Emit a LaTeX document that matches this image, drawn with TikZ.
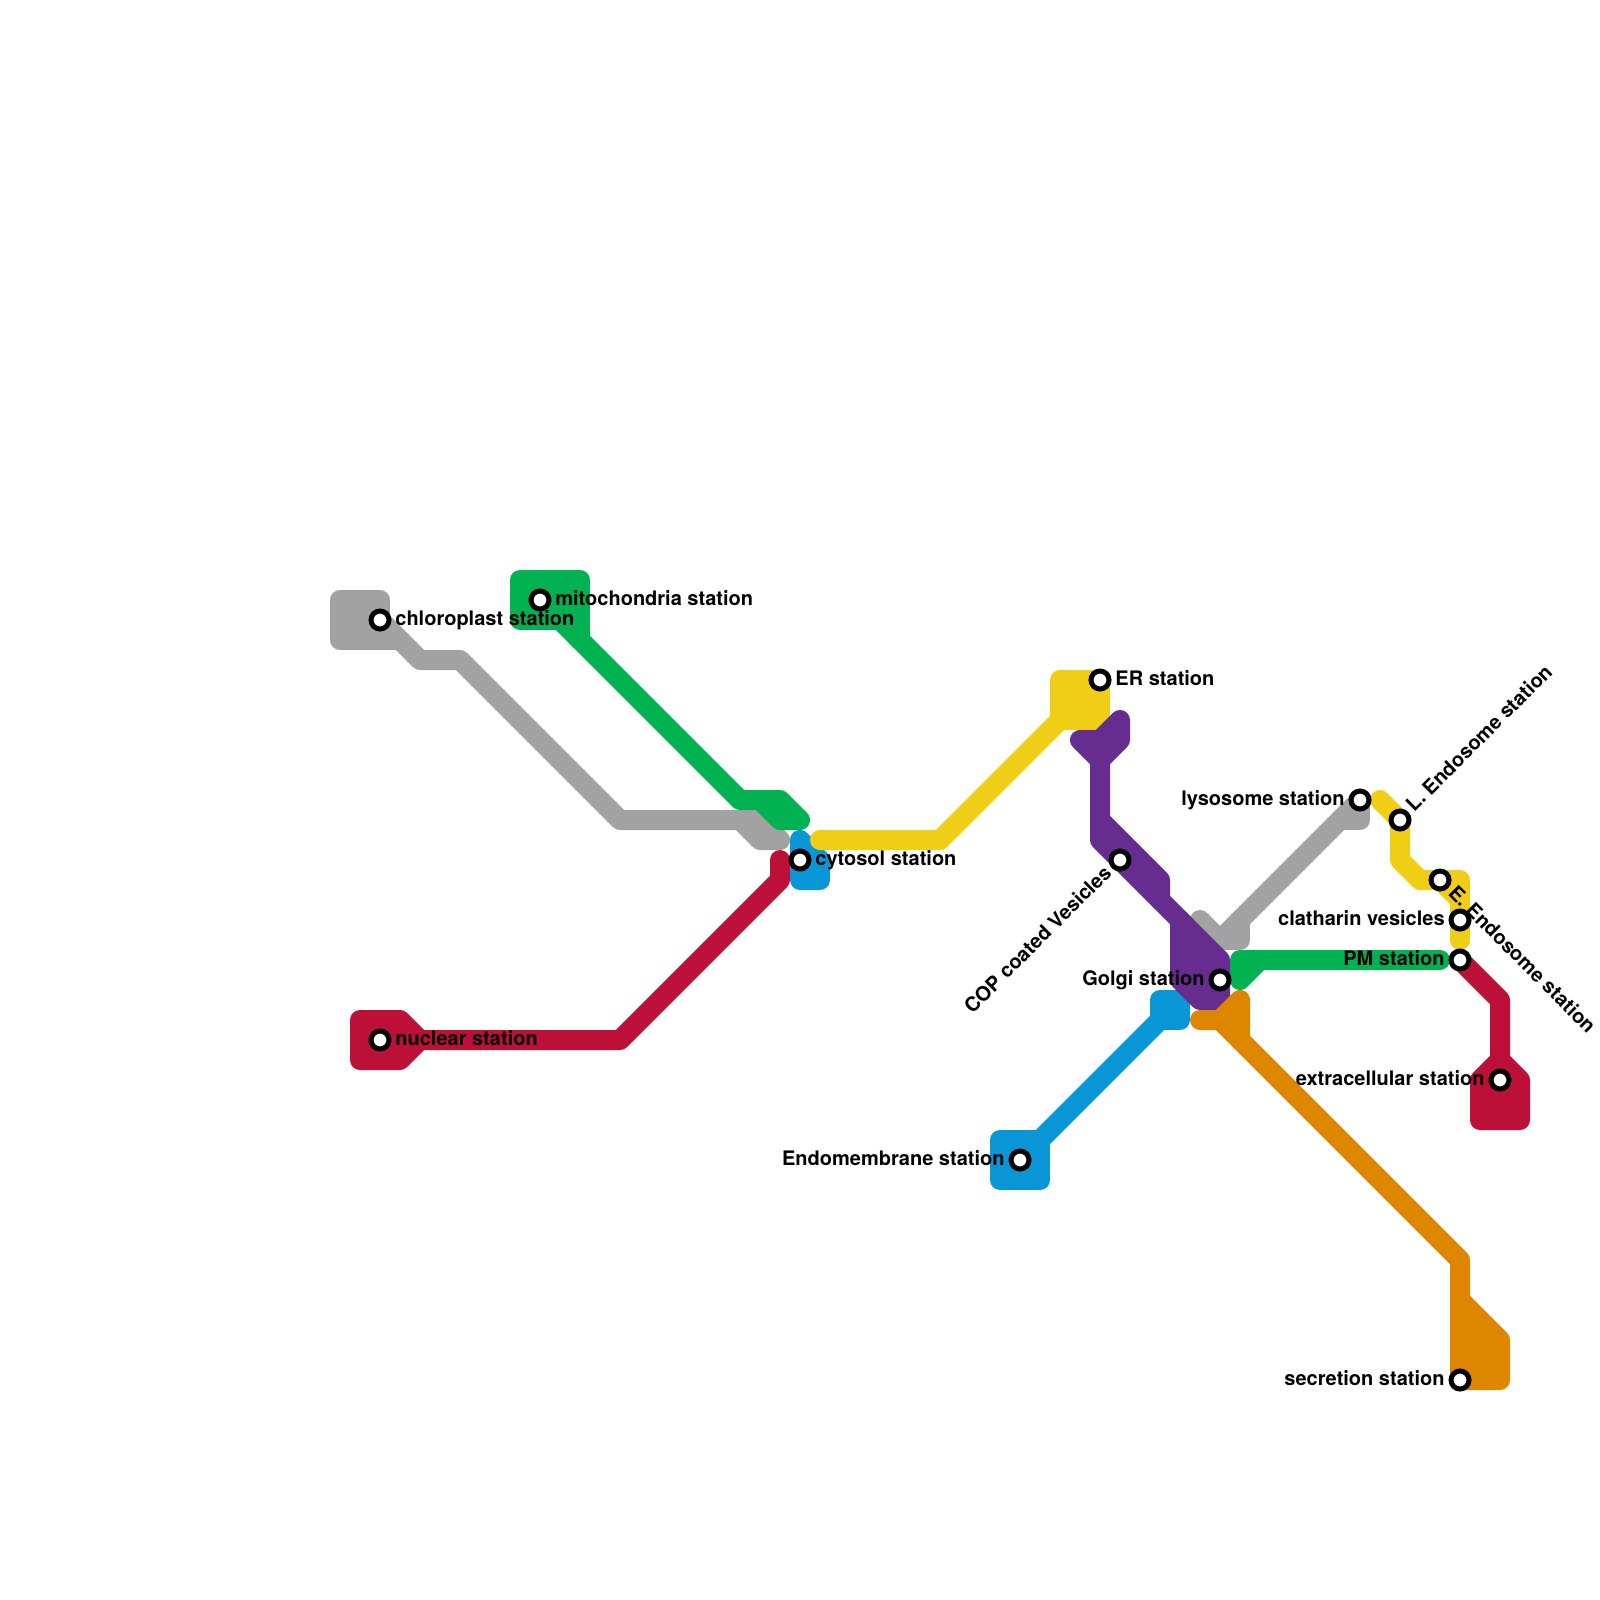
\documentclass[tikz,border=0pt]{standalone}
\usepackage{fontspec}
\setmainfont{TeX Gyre Heros}
\definecolor{mgray}{HTML}{A2A2A2}
\definecolor{mgreen}{HTML}{00B251}
\definecolor{mred}{HTML}{BD1038}
\definecolor{mblue}{HTML}{0896D7}
\definecolor{myellow}{HTML}{F0CE15}
\definecolor{mpurple}{HTML}{662C90}
\definecolor{morange}{HTML}{DF8600}
\tikzset{
  metro/.style={draw=#1,line width=10pt,line cap=round,line join=round},
  blob/.style={draw=#1,fill=#1,line width=10pt,line cap=round,line join=round},
  stn/.style={circle,draw=black,fill=white,line width=2.5pt,minimum size=9pt,inner sep=0pt,outer sep=0pt},
  lab/.style={font=\bfseries\fontsize{10}{12}\selectfont,inner sep=0pt,text=black},
  labr/.style={lab,anchor=base west},
  labl/.style={lab,anchor=base east}
}
\begin{document}
\begin{tikzpicture}[x=0.5pt,y=-0.5pt]
\useasboundingbox (0,0) rectangle (1600,1600);
\fill[white] (0,0) rectangle (1600,1600);
% station positions
\coordinate (pChl) at (380,620);
\coordinate (pMit) at (540,600);
\coordinate (pNuc) at (380,1040);
\coordinate (pCyt) at (800,860);
\coordinate (pER) at (1100,680);
\coordinate (pCOP) at (1120,860);
\coordinate (pGol) at (1220,980);
\coordinate (pEnd) at (1020,1160);
\coordinate (pLys) at (1360,800);
\coordinate (pLE) at (1400,820);
\coordinate (pEE) at (1440,880);
\coordinate (pCla) at (1460,920);
\coordinate (pPM) at (1460,960);
\coordinate (pExt) at (1500,1080);
\coordinate (pSec) at (1460,1380);
% gray
\path[blob=mgray] (340,600) -- (380,600) -- (380,640) -- (340,640) -- cycle;
\path[metro=mgray] (380,640) -- (400,640);
\path[metro=mgray] (pChl) -- (420,660) -- (460,660) -- (620,820) -- (760,820) -- (780,840) -- (760,840) -- (740,820);
\path[metro=mgray] (pLys) -- (1220,940) -- (1200,920);
\path[metro=mgray] (pLys) -- (1360,820) -- (1340,820);
\path[metro=mgray] (1240,920) -- (1240,940) -- (1220,940);
% green
\path[blob=mgreen] (520,580) -- (580,580) -- (580,620) -- (520,620) -- cycle;
\path[metro=mgreen] (580,620) -- (580,640);
\path[metro=mgreen] (560,620) -- (740,800) -- (780,800) -- (800,820) -- (780,820) -- (760,800);
\path[metro=mgreen] (1440,960) -- (1240,960) -- (1240,980) -- (1260,960);
% red
\path[blob=mred] (360,1020) -- (400,1020) -- (420,1040) -- (400,1060) -- (360,1060) -- cycle;
\path[metro=mred] (420,1040) -- (620,1040) -- (780,880) -- (780,860);
\path[metro=mred] (pPM) -- (1500,1000) -- (1500,1060);
\path[blob=mred] (1500,1060) -- (1520,1080) -- (1520,1120) -- (1480,1120) -- (1480,1080) -- cycle;
% blue
\path[blob=mblue] (800,840) -- (820,860) -- (820,880) -- (800,880) -- cycle;
\path[blob=mblue] (1000,1140) -- (1040,1140) -- (1040,1180) -- (1000,1180) -- cycle;
\path[metro=mblue] (1040,1140) -- (1160,1020);
\path[blob=mblue] (1160,1000) -- (1180,1000) -- (1180,1020) -- (1160,1020) -- cycle;
% yellow
\path[metro=myellow] (820,840) -- (940,840) -- (1060,720);
\path[blob=myellow] (1060,680) -- (1100,680) -- (1100,720) -- (1060,720) -- cycle;
\path[metro=myellow] (1380,800) -- (1400,820) -- (1400,860) -- (1420,880) -- (1460,880) -- (1460,940);
\path[metro=myellow] (pEE) -- (1460,900);
% purple
\path[metro=mpurple] (1120,720) -- (1120,740) -- (1100,760) -- (1080,740) -- (1100,740) -- (1120,720);
\path[metro=mpurple] (1100,760) -- (1100,840) -- (1180,920);
\path[metro=mpurple] (1100,820) -- (1160,880) -- (1160,900);
\path[blob=mpurple] (1180,920) -- (1220,960) -- (1220,1000) -- (1200,1000) -- (1180,980) -- cycle;
% orange
\path[metro=morange] (1200,1020) -- (1220,1020) -- (1240,1000) -- (1240,1040);
\path[metro=morange] (1220,1020) -- (1460,1260) -- (1460,1300);
\path[blob=morange] (1460,1300) -- (1500,1340) -- (1500,1380) -- (1460,1380) -- cycle;
% stations
\node[stn] (sChl) at (pChl) {};
\node[stn] (sMit) at (pMit) {};
\node[stn] (sNuc) at (pNuc) {};
\node[stn] (sCyt) at (pCyt) {};
\node[stn] (sER) at (pER) {};
\node[stn] (sCOP) at (pCOP) {};
\node[stn] (sGol) at (pGol) {};
\node[stn] (sEnd) at (pEnd) {};
\node[stn] (sLys) at (pLys) {};
\node[stn] (sLE) at (pLE) {};
\node[stn] (sEE) at (pEE) {};
\node[stn] (sCla) at (pCla) {};
\node[stn] (sPM) at (pPM) {};
\node[stn] (sExt) at (pExt) {};
\node[stn] (sSec) at (pSec) {};
% labels
\node[labr] (tChl) at ([shift={(15,5)}]pChl) {chloroplast station};
\node[labr] (tMit) at ([shift={(15,5)}]pMit) {mitochondria station};
\node[labr] (tNuc) at ([shift={(15,5)}]pNuc) {nuclear station};
\node[labr] (tCyt) at ([shift={(15,5)}]pCyt) {cytosol station};
\node[labr] (tER) at ([shift={(15,5)}]pER) {ER station};
\node[labl] (tGol) at ([shift={(-15,5)}]pGol) {Golgi station};
\node[labl] (tEnd) at ([shift={(-15,5)}]pEnd) {Endomembrane station};
\node[labl] (tLys) at ([shift={(-15,5)}]pLys) {lysosome station};
\node[labl] (tCla) at ([shift={(-15,5)}]pCla) {clatharin vesicles};
\node[labl] (tPM) at ([shift={(-15,5)}]pPM) {PM station};
\node[labl] (tExt) at ([shift={(-15,5)}]pExt) {extracellular station};
\node[labl] (tSec) at ([shift={(-15,5)}]pSec) {secretion station};
\node[labl,rotate=45] (tCOP) at ([shift={(-7.1,14.1)}]pCOP) {COP coated Vesicles};
\node[labr,rotate=45] (tLE) at ([shift={(14.1,-7.1)}]pLE) {L. Endosome station};
\node[labr,rotate=-45] (tEE) at ([shift={(7.1,14.1)}]pEE) {E. Endosome station};
\end{tikzpicture}
\end{document}
